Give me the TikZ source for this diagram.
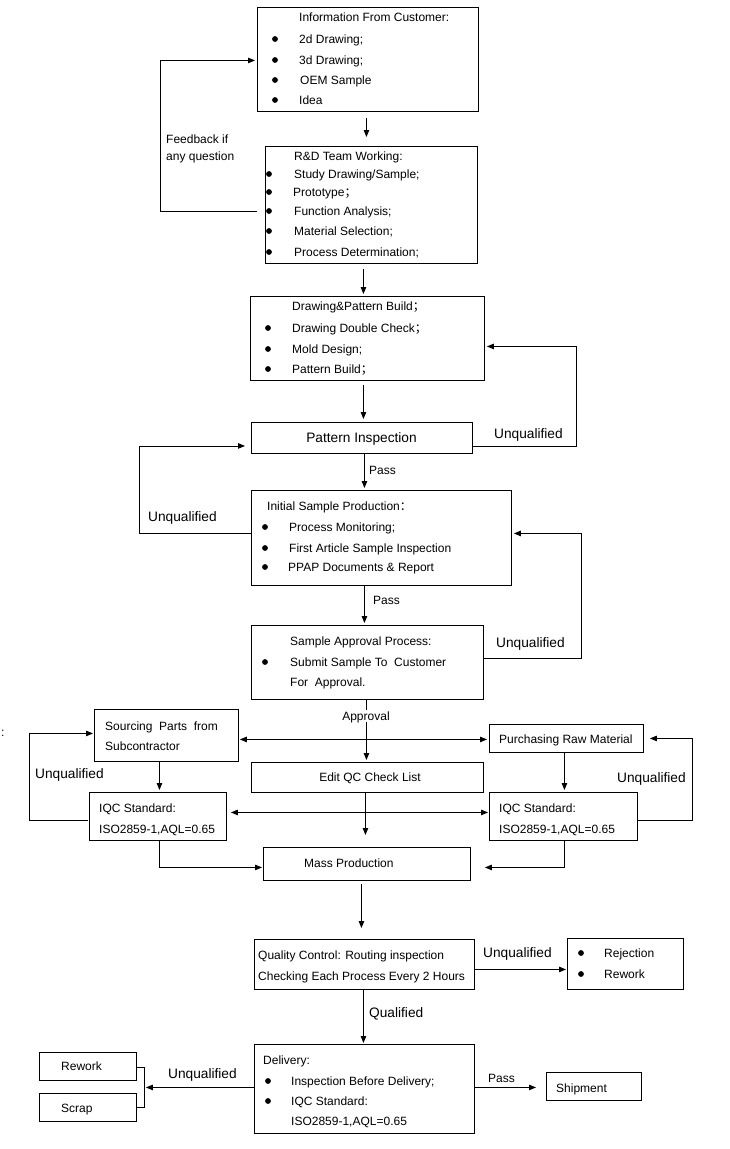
\documentclass[tikz,border=0pt]{standalone}
\usepackage{fontspec}
\setmainfont{Liberation Sans}
\newfontfamily\cjkfont{Noto Sans CJK SC}
\usetikzlibrary{calc,arrows.meta}
\begin{document}
\begin{tikzpicture}[x=1pt,y=-1pt,
  box/.style={draw, line width=0.9pt, inner sep=0pt, anchor=north west},
  txt/.style={anchor=west, inner sep=0pt, font=\fontsize{12}{14}\selectfont, text height=9pt, text depth=1pt},
  ctxt/.style={txt, anchor=center},
  big/.style={anchor=west, inner sep=0pt, font=\fontsize{13.7}{16}\selectfont, text height=10pt, text depth=1pt},
  conn/.style={line width=0.9pt},
  arr/.style={conn, -{Triangle[length=7pt,width=5.5pt]}},
  dbl/.style={conn, {Triangle[length=7pt,width=5.5pt]}-{Triangle[length=7pt,width=5.5pt]}}
]
\fill[white] (0,0) rectangle (729,1149);
\useasboundingbox (0,0) rectangle (729,1149);
\newcommand{\bul}[2]{\fill (#1,#2) circle (2.9pt);}
\newcommand{\fsemi}{{\cjkfont ；}}
\newcommand{\fcolon}{{\cjkfont ：}}

% ---------- boxes ----------
\node[box, minimum width=221pt, minimum height=104pt] (info) at (257,7) {};
\node[box, minimum width=212pt, minimum height=117pt] (rd) at (265,146) {};
\node[box, minimum width=234pt, minimum height=84pt] (dp) at (250,296) {};
\node[box, minimum width=221pt, minimum height=31pt] (pi) at (251,422) {};
\node[box, minimum width=260pt, minimum height=95pt] (isp) at (251,490) {};
\node[box, minimum width=232pt, minimum height=74pt] (sap) at (251,625) {};
\node[box, minimum width=144pt, minimum height=52pt] (src) at (94,709) {};
\node[box, minimum width=154pt, minimum height=28pt] (pur) at (489,724) {};
\node[box, minimum width=232pt, minimum height=30pt] (eqc) at (251,762) {};
\node[box, minimum width=137pt, minimum height=48pt] (iqcl) at (89,792) {};
\node[box, minimum width=148pt, minimum height=48pt] (iqcr) at (489,792) {};
\node[box, minimum width=207pt, minimum height=33pt] (mass) at (263,847) {};
\node[box, minimum width=220pt, minimum height=50pt] (qc) at (254,939) {};
\node[box, minimum width=116pt, minimum height=51pt] (rej) at (567,938) {};
\node[box, minimum width=220pt, minimum height=89pt] (del) at (254,1044) {};
\node[box, minimum width=97pt, minimum height=28pt] (rw) at (39,1052) {};
\node[box, minimum width=97pt, minimum height=28pt] (scrap) at (39,1093) {};
\node[box, minimum width=95pt, minimum height=28pt] (ship) at (546,1072) {};

% ---------- texts ----------
\node[txt] (t1) at (299,17) {Information From Customer:};
\bul{275}{39}\node[txt] (t1a) at (299,39) {2d Drawing;};
\bul{275}{60}\node[txt] (t1b) at (299,60) {3d Drawing;};
\bul{275}{80}\node[txt] (t1c) at (300,80) {OEM Sample};
\bul{275}{100}\node[txt] (t1d) at (299,100) {Idea};

\node[txt] (t2) at (294,156) {R\&D Team Working:};
\bul{269}{174}\node[txt] (t2a) at (294,174) {Study Drawing/Sample;};
\bul{269}{192}\node[txt] (t2b) at (293,192) {Prototype\fsemi};
\bul{269}{211}\node[txt] (t2c) at (294,211) {Function Analysis;};
\bul{269}{231}\node[txt] (t2d) at (294,231) {Material Selection;};
\bul{269}{252}\node[txt] (t2e) at (294,252) {Process Determination;};

\node[txt] (fb1) at (166,139) {Feedback if};
\node[txt] (fb2) at (166,156) {any question};

\node[txt] (t3) at (292,306) {Drawing\&Pattern Build\fsemi};
\bul{268}{328}\node[txt] (t3a) at (292,328) {Drawing Double Check\fsemi};
\bul{268}{349}\node[txt] (t3b) at (292,349) {Mold Design;};
\bul{268}{369}\node[txt] (t3c) at (292,369) {Pattern Build\fsemi};

\node[big, anchor=center] (t4) at (361.5,438) {Pattern Inspection};
\node[big] (u1) at (494,434) {Unqualified};
\node[txt] (p1) at (369,470) {Pass};

\node[txt] (t5) at (267,506) {Initial Sample Production\fcolon};
\bul{265}{527}\node[txt] (t5a) at (289,527) {Process Monitoring;};
\bul{265}{548}\node[txt] (t5b) at (289,548) {First Article Sample Inspection};
\bul{265}{567}\node[txt] (t5c) at (288,567) {PPAP Documents \& Report};
\node[big] (u2) at (148,517) {Unqualified};
\node[txt] (p2) at (373,600) {Pass};

\node[txt] (t6) at (290,641) {Sample Approval Process:};
\bul{265}{662}\node[txt] (t6a) at (290,662) {Submit Sample To\ \ Customer};
\node[txt] (t6b) at (290,682) {For\ \ Approval.};
\node[big] (u3) at (496,643) {Unqualified};

\node[txt] (t7) at (105,726) {Sourcing\ \ Parts\ \ from};
\node[txt] (t7b) at (105,746) {Subcontractor};
\node[txt] (t8) at (499,739) {Purchasing Raw Material};
\node[ctxt] (t9) at (370,777) {Edit QC Check List};
\node[txt] (t10) at (99,808) {IQC Standard:};
\node[txt] (t10b) at (99,829) {ISO2859-1,AQL=0.65};
\node[txt] (t11) at (499,808) {IQC Standard:};
\node[txt] (t11b) at (499,829) {ISO2859-1,AQL=0.65};
\node[big] (u4) at (35,774) {Unqualified};
\node[big] (u5) at (617,778) {Unqualified};
\node[txt] (t12) at (304,863) {Mass Production};
\node[txt] (colon) at (1,732) {:};

\node[txt] (t13) at (258,955) {Quality Control: Routing inspection};
\node[txt] (t13b) at (258,976) {Checking Each Process Every 2 Hours};
\node[big] (u6) at (483,953) {Unqualified};
\bul{581}{953}\node[txt] (t14a) at (604,953) {Rejection};
\bul{581}{974}\node[txt] (t14b) at (604,974) {Rework};
\node[big] (q1) at (369,1013) {Qualified};

\node[txt] (t15) at (263,1060) {Delivery:};
\bul{268}{1081}\node[txt] (t15a) at (291,1081) {Inspection Before Delivery;};
\bul{268}{1101}\node[txt] (t15b) at (291,1101) {IQC Standard:};
\node[txt] (t15c) at (291,1121) {ISO2859-1,AQL=0.65};
\node[big] (u7) at (168,1074) {Unqualified};
\node[txt] (t16) at (61,1066) {Rework};
\node[txt] (t17) at (61,1108) {Scrap};
\node[txt] (p3) at (488,1078) {Pass};
\node[txt] (t18) at (556,1088) {Shipment};

% ---------- connectors ----------
\draw[arr] ($(info.south)+(-1.5,6)$) -- ($(rd.north)+(-5,-9)$);
\draw[arr] ($(rd.west)+(-8,6.5)$) -- ++(-97,0) |- ($(info.west)+(-2,1)$);
\draw[arr] ($(rd.south)+(-8,5)$) -- ($(dp.north)+(-4,-2)$);
\draw[arr] ($(dp.south)+(-4,4)$) -- ($(pi.north)+(1.5,-3)$);
\draw[arr] ($(pi.east)+(0,8.5)$) -- ++(104,0) |- ($(dp.east)+(2,8)$);
\draw[arr] ($(pi.south)+(2.5,0)$) -- ($(isp.north)+(-17,-2)$);
\draw[arr] ($(isp.west)+(0,-4.5)$) -- ++(-112,0) |- ($(pi.west)+(-6,8)$);
\draw[arr] ($(isp.south)+(-17,0)$) -- ($(sap.north)+(-3,-2)$);
\draw[arr] ($(sap.east)+(0,-4)$) -- ++(98,0) |- ($(isp.east)+(2,-4.5)$);
\draw[arr] ($(sap.south)+(-1,0)$) -- ($(eqc.north)+(-1,-2)$);
\node[txt, anchor=center, fill=white, inner sep=1pt] (appr) at (366,716) {Approval};
\draw[dbl] ($(src.east)+(1,4)$) -- ($(pur.west)+(-2,1)$);
\draw[arr] ($(src.south)+(-7,0)$) -- ($(iqcl.north)+(1.5,-2)$);
\draw[arr] ($(pur.south)+(-2,0)$) -- ($(iqcr.north)+(1,-2)$);
\draw[dbl] ($(iqcl.east)+(4,-4)$) -- ($(iqcr.west)+(-1,-4)$);
\draw[arr] ($(eqc.south)+(-2,0)$) -- ($(mass.north)+(-1.5,-12)$);
\draw[arr] ($(iqcl.west)+(-1,4)$) -- ++(-59,0) |- ($(src.west)+(-1,-2)$);
\draw[arr] ($(iqcr.east)+(0,4)$) -- ++(55,0) |- ($(pur.east)+(6,0)$);
\draw[arr] ($(iqcl.south)+(1.5,0)$) |- ($(mass.west)+(-1,3.5)$);
\draw[arr] ($(iqcr.south)+(0.5,0)$) |- ($(mass.east)+(14,3.5)$);
\draw[arr] ($(mass.south)+(-5.5,3)$) -- ($(qc.north)+(-3,-11)$);
\draw[arr] ($(qc.east)+(0,5)$) -- ($(rej.west)+(-1,5.5)$);
\draw[arr] ($(qc.south)+(-1,0)$) -- ($(del.north)+(-1,-1)$);
\draw[conn] ($(rw.east)+(0,1)$) -- ++(8,0) |- (scrap.east);
\coordinate (brk) at ($(scrap.east)+(9,-20)$);
\draw[arr] (del.west |- brk) -- (brk);
\draw[arr] ($(del.east)+(0,-1.5)$) -- ($(ship.west)+(-10,1)$);
\end{tikzpicture}
\end{document}
